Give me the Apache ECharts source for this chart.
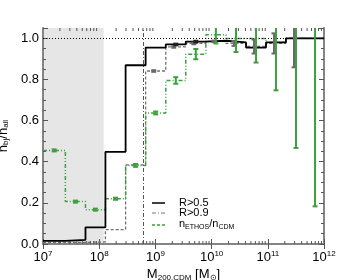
<!DOCTYPE html>
<html>
<head>
<meta charset="utf-8">
<script src="https://cdn.jsdelivr.net/npm/echarts@6/dist/echarts.min.js"></script>
<style>
html,body{margin:0;padding:0;background:#fff;}
#c{width:350px;height:280px;}
</style>
</head>
<body>
<div id="c"></div>
<script>
// ---- data ----
const massEdges = [1.0e7, 2.5e7, 5.7e7, 1.29e8, 2.95e8, 6.7e8, 1.53e9, 3.47e9, 7.9e9, 1.8e10, 4.1e10, 9.3e10, 2.1e11, 4.8e11, 1.0e12];
const fracR05   = [0.015, 0.02, 0.081, 0.448, 0.869, 0.955, 0.97, 0.984, 0.988, 0.98, 0.955, 0.98, 1.0, 1.0];
const fracR09   = [0.008, 0.008, 0.01, 0.07, 0.385, 0.841, 0.958, 0.975, 0.985, 0.975, 0.96, 0.975, 1.0, 1.0];
const ratioEthos = [0.455, 0.206, 0.167, 0.22, 0.382, 0.637, 0.795, 0.923, 1.017, 0.999, 0.999, 0.98, 1.0, 1.0];
const errEthos  = [0.005, 0.005, 0.005, 0.005, 0.007, 0.007, 0.016, 0.025, 0.042, 0.066, 0.117, 0.233, 0.533, 0.817];
const errR09    = [0, 0, 0, 0, 0, 0.004, 0.004, 0.004, 0.004, 0.012, 0.034, 0.049, 0.141, 0];
const errR05    = [0, 0, 0, 0, 0, 0, 0.004, 0.004, 0, 0, 0, 0, 0, 0];
const shadeRange = [1.0e7, 1.2e8];
const refMass = 6.0e8;
const refFrac = 1.0;
const yTicks = [0.0, 0.2, 0.4, 0.6, 0.8, 1.0];

// ---- derived structures ----
function stepData(vals) {
  const d = vals.map((v, i) => [massEdges[i], v]);
  d.push([massEdges[massEdges.length - 1], vals[vals.length - 1]]);
  return d;
}
const binCenters = fracR05.map((v, i) => Math.sqrt(massEdges[i] * massEdges[i + 1]));
function errData(vals, errs) {
  const out = [];
  vals.forEach((v, i) => { if (errs[i] > 0) out.push([binCenters[i], v - errs[i], v + errs[i]]); });
  return out;
}
const minorTicks = [];
for (let e = 7; e < 12; e++) for (let k = 2; k <= 9; k++) minorTicks.push([k * Math.pow(10, e)]);

const GREEN = '#3f9f3f';
const XMIN = 1e7, XMAX = 1e12, YMIN = 0, YMAX = 1.05;

function errRender(color, lw, capW, dx) {
  return function (params, api) {
    const x = api.value(0);
    const lo = api.coord([x, api.value(1)]);
    const hi = api.coord([x, api.value(2)]);
    const px = lo[0] + dx;
    const st = { stroke: color, lineWidth: lw, fill: null };
    return {
      type: 'group',
      children: [
        { type: 'line', shape: { x1: px, y1: lo[1], x2: px, y2: hi[1] }, style: st },
        { type: 'line', shape: { x1: px - capW, y1: lo[1], x2: px + capW, y2: lo[1] }, style: st },
        { type: 'line', shape: { x1: px - capW, y1: hi[1], x2: px + capW, y2: hi[1] }, style: st }
      ]
    };
  };
}

const chart = echarts.init(document.getElementById('c'), null, { renderer: 'canvas' });
const FONT = 'Liberation Sans';
const frameColor = '#858585';
const tickColor = '#555';

chart.setOption({
  animation: false,
  textStyle: { fontFamily: FONT },
  grid: { left: 43, right: 26, top: 28, bottom: 36, show: false, containLabel: false, outerBoundsMode: 'none' },
  xAxis: [
    {
      type: 'log', min: XMIN, max: XMAX, logBase: 10, splitNumber: 5,
      axisLine: { show: true, lineStyle: { color: frameColor, width: 2 } },
      axisTick: { show: true, inside: true, length: 5, lineStyle: { color: tickColor, width: 1 } },
      splitLine: { show: false },
      axisLabel: {
        margin: 6, color: '#000',
        formatter: v => '{b|10}{e|' + Math.round(Math.log10(v)) + '}',
        rich: {
          b: { fontSize: 13, fontFamily: FONT, color: '#000' },
          e: { fontSize: 8, fontFamily: FONT, color: '#000', verticalAlign: 'top', padding: [0, 0, 6, 0] }
        }
      },
      name: '{n|M}{s|200,CDM}{n| [M}{s|⊙}{n|]}',
      nameLocation: 'middle', nameGap: 19,
      nameTextStyle: {
        rich: {
          n: { fontSize: 13, fontFamily: FONT, color: '#000' },
          s: { fontSize: 8, fontFamily: FONT, color: '#000', verticalAlign: 'bottom', padding: [6, 0, 0, 0] }
        }
      }
    },
    {
      type: 'log', min: XMIN, max: XMAX, logBase: 10, splitNumber: 5, position: 'top',
      axisLine: { show: true, lineStyle: { color: frameColor, width: 2 } },
      axisTick: { show: true, inside: true, length: 5, lineStyle: { color: tickColor, width: 1 } },
      axisLabel: { show: false }, splitLine: { show: false }
    }
  ],
  yAxis: [
    {
      type: 'value', min: YMIN, max: YMAX, interval: 0.2,
      axisLine: { show: true, lineStyle: { color: frameColor, width: 2 } },
      axisTick: { show: true, inside: true, length: 5, lineStyle: { color: tickColor, width: 1 } },
      minorTick: { show: true, splitNumber: 4, length: 3, lineStyle: { color: tickColor, width: 1 } },
      splitLine: { show: false },
      axisLabel: {
        margin: 4, fontSize: 13, color: '#000', fontFamily: FONT,
        formatter: v => (yTicks.some(t => Math.abs(t - v) < 1e-6) ? v.toFixed(1) : '')
      },
      name: '{n|n}{s|bj}{n|/n}{s|all}',
      nameLocation: 'middle', nameGap: 23, nameRotate: 90,
      nameTextStyle: {
        rich: {
          n: { fontSize: 13, fontFamily: FONT, color: '#000' },
          s: { fontSize: 8, fontFamily: FONT, color: '#000', verticalAlign: 'bottom', padding: [6, 0, 0, 0] }
        }
      }
    },
    {
      type: 'value', min: YMIN, max: YMAX, interval: 0.2, position: 'right',
      axisLine: { show: true, lineStyle: { color: frameColor, width: 2 } },
      axisTick: { show: true, inside: true, length: 5, lineStyle: { color: tickColor, width: 1 } },
      minorTick: { show: true, splitNumber: 4, length: 3, lineStyle: { color: tickColor, width: 1 } },
      splitLine: { show: false }, axisLabel: { show: false }
    }
  ],
  series: [
    {
      type: 'custom', name: 'shade', z: 0, silent: true, clip: true,
      data: [shadeRange],
      renderItem: function (params, api) {
        const a = api.coord([api.value(0), YMAX]);
        const b = api.coord([api.value(1), YMIN]);
        return { type: 'rect', shape: { x: a[0], y: a[1], width: b[0] - a[0], height: b[1] - a[1] }, style: { fill: '#e6e6e6' } };
      }
    },
    {
      type: 'custom', name: 'minorticks', z: 5, silent: true,
      data: minorTicks,
      renderItem: function (params, api) {
        const b = api.coord([api.value(0), YMIN]);
        const t = api.coord([api.value(0), YMAX]);
        const st = { stroke: tickColor, lineWidth: 1 };
        return { type: 'group', children: [
          { type: 'line', shape: { x1: b[0], y1: b[1], x2: b[0], y2: b[1] - 3 }, style: st },
          { type: 'line', shape: { x1: t[0], y1: t[1], x2: t[0], y2: t[1] + 3 }, style: st }
        ] };
      }
    },
    {
      type: 'line', name: 'R>0.9', step: 'end', data: stepData(fracR09), symbol: 'none', z: 3,
      lineStyle: { color: '#707070', width: 1.3, type: [3, 2] },
      markLine: {
        silent: true, symbol: 'none', label: { show: false },
        data: [
          { xAxis: refMass, lineStyle: { color: '#555', width: 1, type: [4, 2, 1, 2] } },
          { yAxis: refFrac, lineStyle: { color: '#000', width: 1, type: [1, 2] } }
        ]
      }
    },
    {
      type: 'line', name: 'nETHOS', step: 'end', data: stepData(ratioEthos), symbol: 'none', z: 4,
      lineStyle: { color: GREEN, width: 1.5, type: [4, 2, 1, 2, 1, 2] }
    },
    {
      type: 'line', name: 'R>0.5', step: 'end', data: stepData(fracR05), symbol: 'none', z: 5,
      lineStyle: { color: '#000', width: 1.8 }
    },
    { type: 'custom', name: 'errR09', z: 6, clip: true, data: errData(fracR09, errR09), renderItem: errRender('#6a6a6a', 2, 2.5, -2) },
    { type: 'custom', name: 'errR05', z: 7, clip: true, data: errData(fracR05, errR05), renderItem: errRender('#222', 2, 2.5, 0) },
    { type: 'custom', name: 'errEthos', z: 8, clip: true, data: errData(ratioEthos, errEthos), renderItem: errRender(GREEN, 2, 2.5, 0) }
  ],
  graphic: [
    { type: 'line', shape: { x1: 152, y1: 203, x2: 165, y2: 203 }, style: { stroke: '#000', lineWidth: 1.5 } },
    { type: 'text', x: 179, y: 203, style: { text: 'R>0.5', font: '11px "Liberation Sans"', fill: '#000', verticalAlign: 'middle' } },
    { type: 'line', shape: { x1: 152, y1: 213, x2: 165, y2: 213 }, style: { stroke: '#777', lineWidth: 1, lineDash: [4, 2, 1, 2] } },
    { type: 'text', x: 179, y: 213, style: { text: 'R>0.9', font: '11px "Liberation Sans"', fill: '#000', verticalAlign: 'middle' } },
    { type: 'line', shape: { x1: 152, y1: 225, x2: 165, y2: 225 }, style: { stroke: GREEN, lineWidth: 1.5, lineDash: [3, 2] } },
    { type: 'text', x: 179, y: 224, style: {
        text: '{n|n}{s|ETHOS}{n|/n}{s|CDM}', verticalAlign: 'middle',
        rich: {
          n: { fontSize: 11, fontFamily: FONT, fill: '#000', lineHeight: 14 },
          s: { fontSize: 7, fontFamily: FONT, fill: '#000', verticalAlign: 'bottom', lineHeight: 9 }
        }
      } }
  ]
});
</script>
</body>
</html>
